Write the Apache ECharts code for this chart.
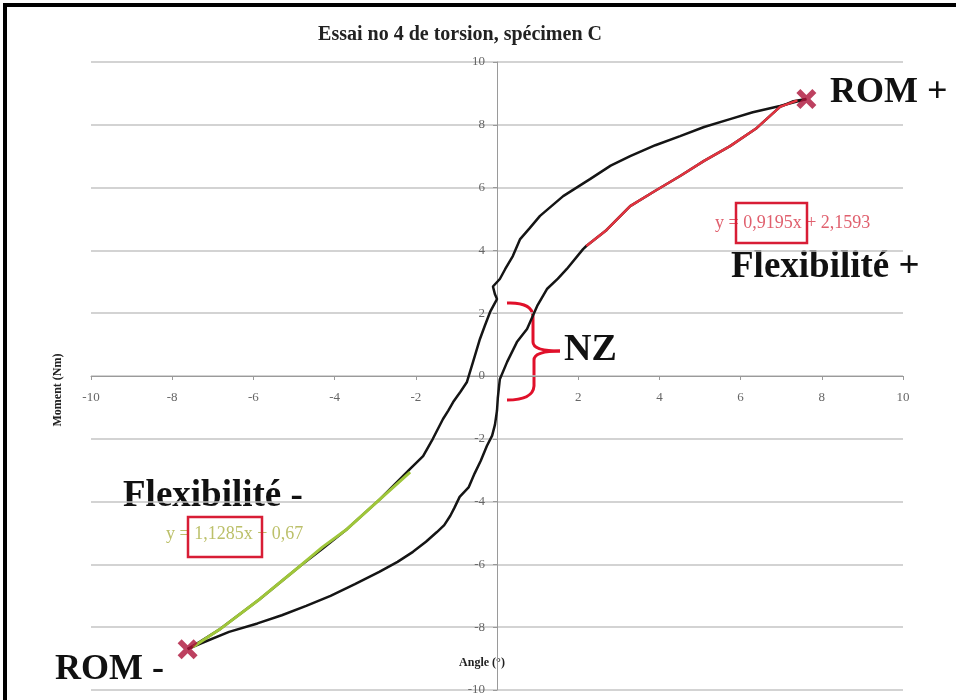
<!DOCTYPE html>
<html>
<head>
<meta charset="utf-8">
<script src="https://cdn.jsdelivr.net/npm/echarts@6/dist/echarts.min.js"></script>
<style>
  body { margin: 0; background: #fff; }
  #torsionChart { width: 956px; height: 700px; }
</style>
</head>
<body>
<div id="torsionChart"></div>
<script>
// boucle moment/angle, lue sur le graphique
// branche de chargement : ROM- -> ROM+
var loadCurve = [
  [-7.62,-8.70],[-7.3,-8.52],[-6.6,-8.15],[-5.9,-7.88],[-5.3,-7.62],[-4.7,-7.32],[-4.1,-7.0],
  [-3.5,-6.63],[-2.9,-6.24],[-2.45,-5.92],[-2.07,-5.6],[-1.75,-5.28],[-1.48,-4.97],[-1.3,-4.75],
  [-1.15,-4.45],[-1.05,-4.2],[-0.92,-3.85],[-0.7,-3.55],[-0.55,-3.1],[-0.4,-2.7],[-0.25,-2.23],
  [-0.12,-1.9],[-0.05,-1.55],[0.0,-1.1],[0.02,-0.7],[0.07,-0.1],[0.25,0.45],[0.49,1.08],
  [0.74,1.5],[0.99,2.23],[1.23,2.77],[1.5,3.1],[1.72,3.41],[2.12,4.04],[2.2,4.14],[2.7,4.65],
  [3.28,5.41],[3.9,5.9],[4.51,6.37],[5.1,6.85],[5.74,7.32],[6.4,7.9],[6.97,8.57],[7.3,8.75],[7.62,8.82]
];
// branche de déchargement : ROM+ -> ROM-
var unloadCurve = [
  [7.62,8.82],[6.97,8.6],[6.3,8.4],[5.74,8.18],[5.1,7.93],[4.51,7.64],[3.9,7.35],[3.28,7.0],
  [2.8,6.7],[2.29,6.27],[1.63,5.73],[1.06,5.1],[0.8,4.7],[0.57,4.36],[0.39,3.82],[0.2,3.4],
  [0.07,3.09],[-0.1,2.85],[-0.05,2.6],[0.0,2.45],[-0.17,2.04],[-0.3,1.6],[-0.42,1.18],
  [-0.59,0.45],[-0.74,-0.19],[-0.9,-0.5],[-1.08,-0.83],[-1.2,-1.1],[-1.33,-1.37],[-1.58,-2.0],
  [-1.82,-2.55],[-2.14,-2.96],[-2.88,-3.92],[-3.69,-4.87],[-4.3,-5.5],[-4.85,-6.05],
  [-5.84,-7.1],[-6.82,-8.06],[-7.3,-8.45],[-7.62,-8.70]
];
// segments de régression (flexibilité)
var flexPlus = [
  [2.2,4.14],[2.7,4.65],[3.28,5.41],[3.9,5.9],[4.51,6.37],[5.1,6.85],[5.74,7.32],[6.4,7.9],[6.97,8.57],[7.4,8.78]
];
var flexMinus = [
  [-2.14,-3.06],[-2.88,-3.92],[-3.69,-4.87],[-4.3,-5.45],[-4.85,-6.05],[-5.84,-7.1],[-6.82,-8.06],[-7.49,-8.63]
];
// points ROM
var romPoints = [[-7.62,-8.70],[7.62,8.82]];

var axisTicks = { min: -10, max: 10, interval: 2 };

var serif = '"Liberation Serif", "Times New Roman", serif';
var crossPath = 'path://M2,0 L5,3 L8,0 L10,2 L7,5 L10,8 L8,10 L5,7 L2,10 L0,8 L3,5 L0,2 Z';

// zone de tracé
var gridBox = { left: 91, right: 53, top: 62, bottom: 10 };
var plotW = 956 - gridBox.left - gridBox.right;
var plotH = 700 - gridBox.top - gridBox.bottom;

var chart = echarts.init(document.getElementById('torsionChart'));

var option = {
  backgroundColor: '#fff',
  animation: false,
  grid: { left: gridBox.left, right: gridBox.right, top: gridBox.top, bottom: gridBox.bottom, outerBoundsMode: 'none' },
  xAxis: {
    type: 'value',
    min: axisTicks.min, max: axisTicks.max, interval: axisTicks.interval,
    // axe qui croise à y = 0
    offset: -plotH / 2,
    axisLine: { onZero: false, lineStyle: { color: '#9a9a9a', width: 1 } },
    axisTick: { show: true, length: 4, lineStyle: { color: '#9a9a9a' } },
    axisLabel: {
      margin: 15, color: '#666', fontFamily: serif, fontSize: 13,
      formatter: function (v) { return v === 0 ? '' : v; }
    },
    splitLine: { show: false }
  },
  yAxis: {
    type: 'value',
    min: axisTicks.min, max: axisTicks.max, interval: axisTicks.interval,
    // axe qui croise à x = 0
    offset: -plotW / 2,
    axisLine: { onZero: false, lineStyle: { color: '#9a9a9a', width: 1 } },
    axisTick: { show: true, length: 4, lineStyle: { color: '#9a9a9a' } },
    axisLabel: { margin: 12, color: '#666', fontFamily: serif, fontSize: 13 },
    splitLine: { show: true, lineStyle: { color: '#c4c4c4', width: 1.5 } }
  },
  series: [
    {
      type: 'line', data: loadCurve, showSymbol: false, symbol: 'none',
      lineStyle: { color: '#151515', width: 2.5 }, z: 2
    },
    {
      type: 'line', data: unloadCurve, showSymbol: false, symbol: 'none',
      lineStyle: { color: '#151515', width: 2.5 }, z: 2
    },
    {
      type: 'line', data: flexPlus, showSymbol: false, symbol: 'none',
      lineStyle: { color: '#e2333f', width: 2.5 }, z: 3
    },
    {
      type: 'line', data: flexMinus, showSymbol: false, symbol: 'none',
      lineStyle: { color: '#9fc63a', width: 3 }, z: 3
    },
    {
      type: 'scatter', data: romPoints, symbol: crossPath, symbolSize: 20,
      itemStyle: { color: '#ac1238' }, z: 5
    }
  ],
  graphic: [
    // cadre
    { type: 'line', shape: { x1: 3, y1: 5, x2: 956, y2: 5 }, style: { stroke: '#000', lineWidth: 4 } },
    { type: 'line', shape: { x1: 5, y1: 3, x2: 5, y2: 700 }, style: { stroke: '#000', lineWidth: 4 } },
    // titre
    { type: 'text', x: 460, y: 35, style: { text: 'Essai no 4 de torsion, spécimen C', font: 'bold 20px ' + serif, fill: '#222', textAlign: 'center', verticalAlign: 'middle' } },
    // noms des axes
    { type: 'text', x: 58, y: 390, rotation: Math.PI / 2, style: { text: 'Moment (Nm)', font: 'bold 12px ' + serif, fill: '#222', textAlign: 'center', verticalAlign: 'middle' } },
    { type: 'text', x: 482, y: 663, style: { text: 'Angle (°)', font: 'bold 12px ' + serif, fill: '#222', textAlign: 'center', verticalAlign: 'middle' } },
    // annotations
    { type: 'text', x: 830, y: 93, style: { text: 'ROM +', font: 'bold 36px ' + serif, fill: '#111', textAlign: 'left', verticalAlign: 'middle' } },
    { type: 'text', x: 731, y: 267, style: { text: 'Flexibilité +', font: 'bold 37px ' + serif, fill: '#111', textAlign: 'left', verticalAlign: 'middle' } },
    { type: 'text', x: 123, y: 496, style: { text: 'Flexibilité -', font: 'bold 37px ' + serif, fill: '#111', textAlign: 'left', verticalAlign: 'middle' } },
    { type: 'text', x: 55, y: 670, style: { text: 'ROM -', font: 'bold 36px ' + serif, fill: '#111', textAlign: 'left', verticalAlign: 'middle' } },
    { type: 'text', x: 564, y: 350, style: { text: 'NZ', font: 'bold 38px ' + serif, fill: '#111', textAlign: 'left', verticalAlign: 'middle' } },
    // équations
    { type: 'text', x: 715, y: 223, style: { text: 'y = 0,9195x + 2,1593', font: '18px ' + serif, fill: '#e0606e', textAlign: 'left', verticalAlign: 'middle' } },
    { type: 'rect', shape: { x: 736, y: 203, width: 71, height: 40 }, style: { fill: 'none', stroke: '#d81d35', lineWidth: 2.5 } },
    { type: 'text', x: 166, y: 534, style: { text: 'y = 1,1285x + 0,67', font: '18px ' + serif, fill: '#bcc06a', textAlign: 'left', verticalAlign: 'middle' } },
    { type: 'rect', shape: { x: 188, y: 517, width: 74, height: 40 }, style: { fill: 'none', stroke: '#d81d35', lineWidth: 2.5 } },
    // accolade NZ
    { type: 'bezierCurve', shape: { x1: 507, y1: 303, cpx1: 532, cpy1: 302, x2: 533, y2: 316 }, style: { stroke: '#e0102a', lineWidth: 3, fill: 'none' } },
    { type: 'line', shape: { x1: 533, y1: 316, x2: 533, y2: 342 }, style: { stroke: '#e0102a', lineWidth: 3 } },
    { type: 'bezierCurve', shape: { x1: 533, y1: 342, cpx1: 533, cpy1: 351, x2: 560, y2: 351 }, style: { stroke: '#e0102a', lineWidth: 3, fill: 'none' } },
    { type: 'bezierCurve', shape: { x1: 560, y1: 351, cpx1: 534, cpy1: 351, x2: 534, y2: 360 }, style: { stroke: '#e0102a', lineWidth: 3, fill: 'none' } },
    { type: 'line', shape: { x1: 534, y1: 360, x2: 534, y2: 386 }, style: { stroke: '#e0102a', lineWidth: 3 } },
    { type: 'bezierCurve', shape: { x1: 534, y1: 386, cpx1: 533, cpy1: 400, x2: 507, y2: 400 }, style: { stroke: '#e0102a', lineWidth: 3, fill: 'none' } }
  ]
};

chart.setOption(option);
</script>
</body>
</html>
